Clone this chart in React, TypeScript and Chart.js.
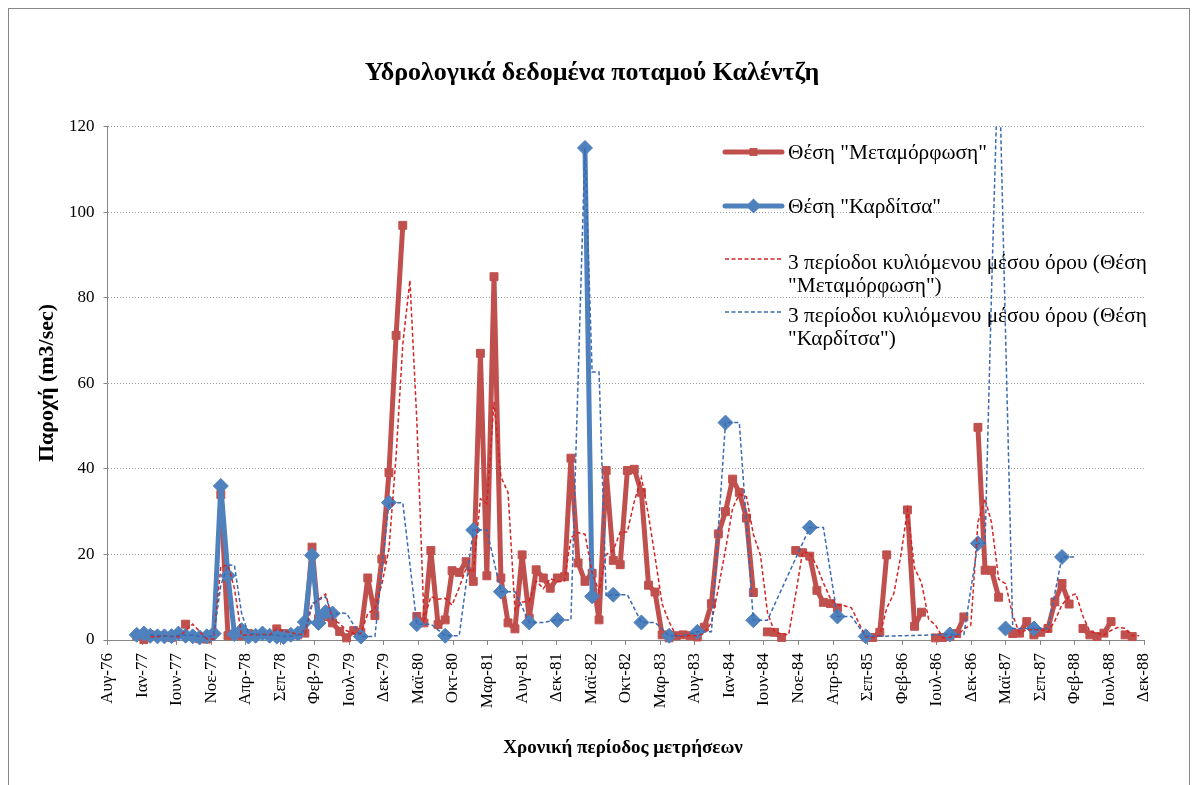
import React, { useEffect, useRef } from "react";
import { Chart, registerables } from "chart.js";

Chart.register(...registerables);

// ---------------- DATA ----------------
const chartTitle = "Υδρολογικά δεδομένα ποταμού Καλέντζη";
const xAxisTitle = "Χρονική περίοδος μετρήσεων";
const yAxisTitle = "Παροχή (m3/sec)";

const seriesNames = [
  'Θέση "Μεταμόρφωση"',
  'Θέση "Καρδίτσα"',
  '3 περίοδοι κυλιόμενου μέσου όρου (Θέση "Μεταμόρφωση")',
  '3 περίοδοι κυλιόμενου μέσου όρου (Θέση "Καρδίτσα")',
];

// date axis: starts 27 Aug 1976, major unit 150 days
const axisStart = Date.UTC(1976, 7, 27);
const majorUnitDays = 150;
const tickLabels = [
  "Αυγ-76", "Ιαν-77", "Ιουν-77", "Νοε-77", "Απρ-78", "Σεπ-78", "Φεβ-79", "Ιουλ-79",
  "Δεκ-79", "Μαϊ-80", "Οκτ-80", "Μαρ-81", "Αυγ-81", "Δεκ-81", "Μαϊ-82", "Οκτ-82",
  "Μαρ-83", "Αυγ-83", "Ιαν-84", "Ιουν-84", "Νοε-84", "Απρ-85", "Σεπ-85", "Φεβ-86",
  "Ιουλ-86", "Δεκ-86", "Μαϊ-87", "Σεπ-87", "Φεβ-88", "Ιουλ-88", "Δεκ-88",
];

// monthly records, one row per month from Jan 1977 to Dec 1988 (null = no measurement)
const firstYear = 1977;

const metamorfosiFlow: (number | null)[] = [
  1.0, 0.1, 1.2, 1.0, 0.8, 0.6, null, 3.7, null, 0.3, 0.2, null, // 1977
  34.0, 1.0, 1.2, 1.0, 1.5, 1.2, null, null, 2.6, 1.5, 1.2, 1.2, // 1978
  1.6, 21.7, 5.0, 5.5, 4.0, 2.0, 0.5, 2.2, 1.8, 14.5, 5.7, 18.9, // 1979
  39.1, 71.2, 96.9, null, 5.5, 4.0, 20.9, 3.6, 4.7, 16.2, 15.8, 18.3, // 1980
  13.7, 67.0, 15.0, 84.9, 14.5, 4.0, 2.6, 19.9, 5.1, 16.4, 14.5, 12.1, // 1981
  14.5, 14.8, 42.5, 18.0, 13.7, 15.6, 4.7, 39.6, 18.6, 17.6, 39.6, 39.9, // 1982
  34.5, 12.8, 11.2, 1.2, 0.5, 1.0, 1.2, 1.0, 0.7, 3.0, 8.5, 24.8, // 1983
  30.0, 37.6, 34.5, 28.5, 11.1, null, 1.9, 1.8, 0.6, null, 20.9, 20.4, // 1984
  19.6, 11.6, 8.8, 8.5, 7.5, null, null, null, 0.7, 0.6, 1.8, 19.9, // 1985
  null, null, 30.4, 3.2, 6.5, null, 0.5, 0.6, 0.8, 1.5, 5.4, null, // 1986
  49.7, 16.3, 16.3, 10.0, null, 1.5, 1.6, 4.3, 1.2, 1.8, 2.7, 8.9, // 1987
  13.2, 8.4, null, 2.7, 1.2, 0.8, 1.6, 4.3, null, 1.2, 0.8, null, // 1988
];

const karditsaFlow: (number | null)[] = [
  1.2, 1.5, 1.0, 0.85, 0.85, 0.9, 1.5, 1.0, 0.85, 0.6, 0.85, 1.5, // 1977
  36.0, 15.0, 1.4, 2.3, 0.8, 1.0, 1.5, 1.0, 0.8, 0.7, 1.2, 1.5, // 1978
  4.2, 19.8, 4.0, 6.5, 6.2, null, null, null, 0.8, null, null, null, // 1979
  32.1, null, null, null, 3.7, null, null, null, 1.0, null, null, null, // 1980
  25.7, null, null, null, 11.3, null, null, null, 4.1, null, null, null, // 1981
  4.7, null, null, null, 115.0, 10.2, null, null, 10.6, null, null, null, // 1982
  4.1, null, null, null, 1.0, null, null, null, 1.9, null, null, null, // 1983
  50.8, null, null, null, 4.6, null, null, null, null, null, null, null, // 1984
  26.3, null, null, null, 5.5, null, null, null, 0.85, null, null, null, // 1985
  null, null, null, null, null, null, null, null, 1.3, null, null, null, // 1986
  22.6, null, 140.0, null, 2.7, null, null, null, 2.7, null, null, null, // 1987
  19.4, null, null, null, null, null, null, null, null, null, null, null, // 1988
];

const movingAveragePeriod = 3;

// ---------------- HELPERS ----------------
const DAY = 86400000;
const monthDays = metamorfosiFlow.map((_, i) => (Date.UTC(firstYear, i, 1) - axisStart) / DAY);

// Excel-style moving-average trendline: mean of the non-empty cells of the last N rows
function trendline(values: (number | null)[], period: number) {
  return values.map((_, i) => {
    if (i < period - 1) return null;
    const w = values.slice(i - period + 1, i + 1).filter((v) => v !== null) as number[];
    return w.length ? w.reduce((a, b) => a + b, 0) / w.length : null;
  });
}

const toPoints = (vals: (number | null)[]) => vals.map((v, i) => ({ x: monthDays[i], y: v }));

const RED = "#C0504D";
const BLUE = "#4F81BD";
const RED_MA = "#D42424";
const BLUE_MA = "#3A6BB2";
const AXIS = "#868686";
const GRID = "#9a9a9a";
const FONT = '"Liberation Serif", "Times New Roman", serif';

// ---------------- OVERLAY (titles + legend) ----------------
const overlayPlugin = {
  id: "overlay",
  afterDraw(chart: any) {
    const ctx = chart.ctx as CanvasRenderingContext2D;
    ctx.save();
    ctx.fillStyle = "#000";
    ctx.textBaseline = "middle";

    // chart title
    ctx.textAlign = "center";
    ctx.font = `bold 26px ${FONT}`;
    ctx.fillText(chartTitle, 583, 64);

    // x axis title
    ctx.font = `bold 19px ${FONT}`;
    ctx.fillText(xAxisTitle, 614, 739);

    // y axis title
    ctx.save();
    ctx.font = `bold 22px ${FONT}`;
    ctx.translate(38, 374);
    ctx.rotate(-Math.PI / 2);
    ctx.fillText(yAxisTitle, 0, 0);
    ctx.restore();

    // legend
    const ds = chart.data.datasets;
    const lx0 = 716, lx1 = 773, tx = 779, maxW = 380, lh = 23;
    const rows = [143, 197, 250, 303];
    ctx.textAlign = "left";
    ctx.font = `21.3px ${FONT}`;
    ds.forEach((d: any, i: number) => {
      const y = rows[i];
      ctx.save();
      ctx.strokeStyle = d.borderColor;
      ctx.lineWidth = d.borderWidth;
      ctx.setLineDash(d.borderDash || []);
      ctx.lineCap = d.borderDash ? "butt" : "round";
      ctx.beginPath();
      ctx.moveTo(lx0, y);
      ctx.lineTo(lx1, y);
      ctx.stroke();
      ctx.restore();
      if (d.pointRadius > 0) {
        ctx.save();
        ctx.fillStyle = d.backgroundColor;
        const cx = (lx0 + lx1) / 2;
        ctx.beginPath();
        if (d.pointStyle === "rectRot") {
          const r = d.pointRadius;
          ctx.moveTo(cx - r, y);
          ctx.lineTo(cx, y - r);
          ctx.lineTo(cx + r, y);
          ctx.lineTo(cx, y + r);
        } else {
          const s = d.pointRadius * Math.SQRT1_2;
          ctx.rect(cx - s, y - s, 2 * s, 2 * s);
        }
        ctx.closePath();
        ctx.fill();
        ctx.restore();
      }
      // wrap text
      const words = String(d.label).split(" ");
      const lines: string[] = [];
      let cur = "";
      words.forEach((w) => {
        const t = cur ? cur + " " + w : w;
        if (ctx.measureText(t).width > maxW && cur) {
          lines.push(cur);
          cur = w;
        } else cur = t;
      });
      if (cur) lines.push(cur);
      const ty = lines.length > 1 ? y + 4 : y + 1;
      lines.forEach((ln, j) => ctx.fillText(ln, tx, ty + j * lh));
    });
    ctx.restore();
  },
};

// ---------------- COMPONENT ----------------
export default function App() {
  const ref = useRef<HTMLCanvasElement>(null);

  useEffect(() => {
    const clip = { left: 12, top: 0, right: 12, bottom: 12 };
    const chart = new Chart(ref.current as HTMLCanvasElement, {
      type: "line",
      data: {
        datasets: [
          {
            label: seriesNames[0],
            data: toPoints(metamorfosiFlow),
            borderColor: RED,
            backgroundColor: RED,
            borderWidth: 5,
            borderJoinStyle: "round",
            borderCapStyle: "round",
            pointStyle: "rect",
            pointRadius: 5.6,
            pointBorderWidth: 1,
            pointBorderColor: RED,
            pointBackgroundColor: RED,
            spanGaps: false,
            tension: 0,
            order: 4,
            clip,
          },
          {
            label: seriesNames[1],
            data: toPoints(karditsaFlow),
            borderColor: BLUE,
            backgroundColor: BLUE,
            borderWidth: 5,
            borderJoinStyle: "round",
            borderCapStyle: "round",
            pointStyle: "rectRot",
            pointRadius: 7.5,
            pointBorderWidth: 1,
            pointBorderColor: BLUE,
            pointBackgroundColor: BLUE,
            spanGaps: false,
            tension: 0,
            order: 3,
            clip,
          },
          {
            label: seriesNames[2],
            data: toPoints(trendline(metamorfosiFlow, movingAveragePeriod)),
            borderColor: RED_MA,
            backgroundColor: RED_MA,
            borderWidth: 1.5,
            borderDash: [4, 2.5],
            pointRadius: 0,
            spanGaps: true,
            tension: 0,
            order: 2,
            clip,
          },
          {
            label: seriesNames[3],
            data: toPoints(trendline(karditsaFlow, movingAveragePeriod)),
            borderColor: BLUE_MA,
            backgroundColor: BLUE_MA,
            borderWidth: 1.5,
            borderDash: [4, 2.5],
            pointRadius: 0,
            spanGaps: true,
            tension: 0,
            order: 1,
            clip,
          },
        ] as any,
      },
      options: {
        animation: false,
        responsive: false,
        devicePixelRatio: 1,
        events: [],
        layout: { padding: { left: 0, top: 117.5, right: 45, bottom: 56 } },
        plugins: {
          legend: { display: false },
          title: { display: false },
          tooltip: { enabled: false },
        },
        scales: {
          x: {
            type: "linear",
            min: 0,
            max: majorUnitDays * (tickLabels.length - 1),
            afterBuildTicks: (scale: any) => {
              scale.ticks = tickLabels.map((_, i) => ({ value: i * majorUnitDays }));
            },
            afterFit: (scale: any) => {
              scale.height = 90;
            },
            ticks: {
              autoSkip: false,
              minRotation: 90,
              maxRotation: 90,
              padding: 8,
              color: "#000",
              font: { family: FONT, size: 17 },
              callback: (_v: any, i: number) => tickLabels[i],
            },
            grid: {
              display: true,
              drawOnChartArea: false,
              drawTicks: true,
              tickLength: 5,
              tickColor: AXIS,
              color: AXIS,
            },
            border: { display: true, color: AXIS, width: 1 },
          },
          y: {
            type: "linear",
            min: 0,
            max: 120,
            afterFit: (scale: any) => {
              scale.width = 98.5;
            },
            ticks: {
              stepSize: 20,
              padding: 9,
              color: "#000",
              font: { family: FONT, size: 17 },
            },
            grid: {
              color: GRID,
              lineWidth: 1,
              tickLength: 4,
              tickColor: AXIS,
              tickBorderDash: [],
            },
            border: { display: true, color: AXIS, width: 1, dash: [1, 2] },
          },
        },
      } as any,
      plugins: [overlayPlugin],
    });
    return () => chart.destroy();
  }, []);

  return (
    <div
      style={{
        position: "relative",
        width: 1180,
        height: 777,
        borderLeft: "1px solid #868686",
        borderTop: "1px solid #868686",
        borderRight: "1px solid #868686",
        background: "#fff",
      }}
    >
      <style>{"html,body{overflow:hidden}"}</style>
      <canvas ref={ref} width={1180} height={777} style={{ display: "block", width: 1180, height: 777 }} />
    </div>
  );
}
